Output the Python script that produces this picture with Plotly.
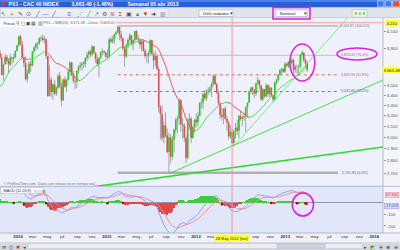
import numpy as np
import pandas as pd
import plotly.graph_objects as go

W, H = 400, 250
def X(px): return px / W
def Y(py): return 1 - py / H

# ---------------- DATA (weekly CAC 40) ----------------
first_week = "2009-06-01"
opens = [3280, 3380, 3330, 3200, 3140, 3080, 3020, 3230, 3370, 3426, 3520, 3520, 3570, 3590, 3500, 3700, 3800, 3730, 3600, 3780, 3850,
         3800, 3608, 3720, 3808, 3760, 3721, 3799, 3785, 3799, 3872,
         3936, 4045, 3949, 3796, 3737, 3563, 3625, 3730, 3708, 3864, 3914, 3955, 3962, 4021, 4027, 3999, 4010, 3816, 3392, 3560, 3431, 3508,
         3414, 3475, 3600, 3489, 3348, 3560, 3487, 3551, 3643, 3743, 3609, 3545, 3536, 3653, 3696, 3715, 3733, 3727, 3791, 3833, 3869, 3833,
         3927, 3851, 3779, 3725, 3795, 3861, 3873, 3854,
         3805, 3801, 4010, 3981, 4012, 4072, 4092, 4157, 4064, 4020, 3900, 3810, 3940, 4000, 4056, 3950, 3999, 4107, 4018, 4005, 3947, 3985,
         3876, 3816, 3823, 3854, 3998, 3838, 3766, 3816, 3672, 3279, 3213, 2997, 3108, 3019, 2873, 3000, 2834, 2981, 3068, 3162, 3174, 3348,
         3120, 3109, 2997, 2823, 3155, 3170, 2996, 3094,
         3160, 3137, 3196, 3318, 3327, 3413, 3368, 3435, 3445, 3467, 3516, 3599, 3511, 3424, 3319, 3205, 3187, 3268, 3169, 3135, 3009, 3050,
         2950, 3051, 3088, 3060, 3196, 3168, 3180, 3194, 3279, 3321, 3437, 3477, 3446, 3413, 3519, 3552, 3498, 3355, 3460, 3387, 3500, 3410,
         3474, 3396, 3356, 3531, 3557, 3610, 3662, 3674, 3641,
         3730, 3706, 3754, 3741, 3773, 3664, 3698, 3702, 3698, 3831, 3854, 3770, 3731]
highs = [3400, 3420, 3340, 3230, 3220, 3090, 3240, 3380, 3440, 3530, 3560, 3590, 3620, 3600, 3700, 3810, 3820, 3760, 3790, 3880, 3890,
         3840, 3730, 3840, 3830, 3790, 3840, 3810, 3840, 3880, 3945,
         4050, 4065, 3990, 3830, 3810, 3670, 3760, 3760, 3870, 3930, 3970, 3975, 4035, 4050, 4065, 4050, 4020, 3820, 3710, 3590, 3520, 3560,
         3490, 3620, 3640, 3530, 3570, 3590, 3570, 3670, 3760, 3750, 3650, 3580, 3660, 3710, 3750, 3750, 3760, 3800, 3860, 3880, 3890, 3940,
         3930, 3860, 3830, 3800, 3870, 3900, 3880, 3860,
         3890, 4020, 4040, 4050, 4080, 4110, 4169, 4150, 4110, 4030, 3920, 3960, 4025, 4080, 4060, 4010, 4110, 4120, 4060, 4025, 4000, 4010,
         3900, 3850, 3880, 4010, 4000, 3850, 3880, 3840, 3700, 3300, 3300, 3140, 3230, 3080, 3040, 3030, 3010, 3080, 3180, 3200, 3370, 3360,
         3180, 3130, 3020, 3180, 3220, 3190, 3110, 3170,
         3220, 3230, 3330, 3360, 3420, 3450, 3460, 3480, 3490, 3530, 3610, 3600, 3530, 3450, 3330, 3270, 3270, 3290, 3200, 3150, 3110, 3080,
         3070, 3130, 3160, 3210, 3250, 3200, 3230, 3290, 3330, 3450, 3480, 3490, 3460, 3530, 3590, 3560, 3500, 3470, 3460, 3520, 3510, 3500,
         3480, 3410, 3535, 3570, 3620, 3670, 3690, 3680, 3750,
         3740, 3760, 3780, 3800, 3780, 3720, 3720, 3720, 3840, 3880, 3860, 3790, 3760]
lows = [3270, 3300, 3190, 3100, 3060, 2970, 3000, 3220, 3330, 3420, 3440, 3420, 3540, 3440, 3490, 3690, 3700, 3550, 3590, 3770, 3780,
        3600, 3550, 3720, 3730, 3630, 3700, 3720, 3740, 3790, 3870,
        3920, 3940, 3780, 3690, 3550, 3530, 3620, 3640, 3700, 3850, 3880, 3890, 3940, 3980, 3990, 3960, 3780, 3380, 3385, 3380, 3350, 3400,
        3390, 3460, 3470, 3290, 3340, 3470, 3430, 3550, 3600, 3590, 3520, 3460, 3470, 3620, 3670, 3650, 3680, 3690, 3760, 3780, 3800, 3810,
        3840, 3740, 3700, 3580, 3780, 3820, 3830, 3790,
        3780, 3800, 3960, 3960, 3950, 4050, 4080, 4000, 3980, 3880, 3695, 3790, 3910, 3990, 3940, 3880, 3980, 4000, 3960, 3900, 3870, 3860,
        3790, 3740, 3730, 3830, 3830, 3670, 3700, 3660, 3230, 2980, 2970, 2950, 3000, 2860, 2693, 2780, 2810, 2870, 3040, 3040, 3110, 3050,
        2990, 2960, 2780, 2810, 3070, 2950, 2990, 3040,
        3090, 3100, 3190, 3270, 3260, 3350, 3340, 3400, 3420, 3380, 3490, 3500, 3410, 3300, 3170, 3150, 3120, 3160, 3060, 2980, 2990, 2940,
        2920, 2990, 3020, 2990, 3150, 3100, 3150, 3050, 3180, 3320, 3410, 3400, 3370, 3390, 3500, 3460, 3340, 3340, 3370, 3380, 3380, 3380,
        3380, 3330, 3340, 3500, 3530, 3590, 3620, 3630, 3630,
        3690, 3680, 3690, 3720, 3630, 3630, 3620, 3600, 3680, 3800, 3750, 3680, 3640]
closes = [3380, 3330, 3200, 3140, 3080, 3020, 3230, 3370, 3426, 3520, 3520, 3570, 3590, 3500, 3700, 3800, 3730, 3600, 3780, 3850, 3800,
          3608, 3720, 3808, 3760, 3721, 3799, 3785, 3799, 3872, 3936,
          4045, 3949, 3796, 3737, 3563, 3625, 3730, 3708, 3864, 3914, 3955, 3962, 4021, 4027, 3999, 4010, 3816, 3392, 3560, 3431, 3508, 3414,
          3475, 3600, 3489, 3348, 3560, 3487, 3551, 3643, 3743, 3609, 3545, 3536, 3653, 3696, 3715, 3733, 3727, 3791, 3833, 3869, 3833, 3927,
          3851, 3779, 3725, 3795, 3861, 3873, 3854, 3805,
          3801, 4010, 3981, 4012, 4072, 4092, 4157, 4064, 4020, 3900, 3810, 3940, 4000, 4056, 3950, 3999, 4107, 4018, 4005, 3947, 3985, 3876,
          3816, 3823, 3854, 3998, 3838, 3766, 3816, 3672, 3279, 3213, 2997, 3108, 3019, 2873, 3000, 2834, 2981, 3068, 3162, 3174, 3348, 3120,
          3109, 2997, 2823, 3155, 3170, 2996, 3094, 3160,
          3137, 3196, 3318, 3327, 3413, 3368, 3435, 3445, 3467, 3516, 3599, 3511, 3424, 3319, 3205, 3187, 3268, 3169, 3135, 3009, 3050, 2950,
          3051, 3088, 3060, 3196, 3168, 3180, 3194, 3279, 3321, 3437, 3477, 3446, 3413, 3519, 3552, 3498, 3355, 3460, 3387, 3500, 3410, 3474,
          3396, 3356, 3531, 3557, 3610, 3662, 3674, 3641, 3730,
          3706, 3754, 3741, 3773, 3664, 3698, 3702, 3698, 3831, 3854, 3770, 3731, 3663.48]

n = len(closes)
assert len(opens) == len(highs) == len(lows) == n
dates = pd.date_range(first_week, periods=n, freq="7D")
highs = [max(h, o, c) for h, o, c in zip(highs, opens, closes)]
lows = [min(l, o, c) for l, o, c in zip(lows, opens, closes)]

# Fibonacci retracement drawn on the chart
fib_high, fib_low = 4169.87, 2701.85
fib_ratios = [1.0, 0.764, 0.618, 0.5, 0.0]
fib_line_colors = ["#9c9c9c", "#f3a8a8", "#e06464", "#6a78e0", "#b0b0b0"]
fib_text_colors = ["#777777", "#d05a5a", "#d05a5a", "#5060d0", "#666666"]
fib_dashes = ["solid", "solid", "dot", "dot", "solid"]
fib_widths = [1, 1, 1, 1, 2.5]
fib_start, fib_end = "2011-02-14", "2013-08-05"

# Trendlines: two anchor points (date, price) + drawn extent
trendlines = [
    (("2011-09-12", 2674), ("2014-02-06", 2917), "2010-11-01", "2014-02-06", 1.6, "#2fd82f"),
    (("2011-09-12", 2696), ("2014-02-06", 3554), "2011-09-12", "2014-02-06", 1.0, "#45dd45"),
    (("2012-06-04", 2920), ("2012-11-12", 3330), "2012-06-04", "2013-09-16", 0.8, "#6fe06f"),
]

cursor_date, cursor_price = "2012-05-28", 4210
price_ticks = [4100, 3900, 3500, 3400, 3300, 3200, 3100, 3000, 2900, 2800, 2700]
macd_ticks = [-100, -200]
macd_labels = [67.300, -27.013]

# x tick labels (the two 2012 labels hidden under the cursor date box are left out)
hidden_ticks = {"2012-05-01", "2012-07-01"}
tick_dates = []
tick_labels = []
for yr in [2010, 2011, 2012, 2013]:
    for m, lab in zip([1, 3, 5, 7, 9, 11], [None, "mar", "may", "jul", "sep", "nov"]):
        d = f"{yr}-{m:02d}-01"
        if d in hidden_ticks:
            continue
        tick_dates.append(d)
        tick_labels.append(f"<b>{yr}</b>" if lab is None else lab)
tick_dates.append("2014-01-01"); tick_labels.append("<b>2014</b>")

xr = ["2009-10-19", "2014-02-06"]
FONT = "Liberation Sans, Arial, sans-serif"

fig = go.Figure()
def add(tr): fig.add_trace(tr)

# Fib lines
ann = []
for r, lc, tc, ds, wd in zip(fib_ratios, fib_line_colors, fib_text_colors, fib_dashes, fib_widths):
    lvl = fib_low + r * (fib_high - fib_low)
    add(go.Scatter(x=[fib_start, fib_end], y=[lvl, lvl], mode="lines",
                   line=dict(color=lc, width=wd, dash=ds), hoverinfo="skip", showlegend=False))
    ann.append(dict(x=X(355), xref="paper", y=np.log10(lvl), yref="y",
                    text=f"{lvl:,.2f} ({r*100:.1f}%)", font=dict(size=3.6, color=tc, family=FONT),
                    showarrow=False, xanchor="center", yanchor="middle"))

# crosshair horizontal
add(go.Scatter(x=xr, y=[cursor_price, cursor_price], mode="lines",
               line=dict(color="#f2a0a0", width=1), hoverinfo="skip", showlegend=False))

# candles: wicks then bodies
wx, wy = [], []
ux, uy, dx, dy = [], [], [], []
for d, o, h, l, c in zip(dates, opens, highs, lows, closes):
    wx += [d, d, None]; wy += [l, h, None]
    if c >= o:
        ux += [d, d, None]; uy += [o, c, None]
    else:
        dx += [d, d, None]; dy += [o, c, None]
add(go.Scatter(x=wx, y=wy, mode="lines", line=dict(color="#a4a4a4", width=1), hoverinfo="skip", showlegend=False))
add(go.Scatter(x=ux, y=uy, mode="lines", line=dict(color="#26c926", width=1.6), hoverinfo="skip", showlegend=False))
add(go.Scatter(x=dx, y=dy, mode="lines", line=dict(color="#e05050", width=1.6), hoverinfo="skip", showlegend=False))

# moving average 20, coloured by slope
ma = pd.Series(closes).rolling(20).mean().values
gx, gy, rx_, ry_ = [], [], [], []
for i in range(1, n):
    if np.isnan(ma[i - 1]):
        continue
    if ma[i] >= ma[i - 1]:
        gx += [dates[i - 1], dates[i], None]; gy += [ma[i - 1], ma[i], None]
    else:
        rx_ += [dates[i - 1], dates[i], None]; ry_ += [ma[i - 1], ma[i], None]
add(go.Scatter(x=gx, y=gy, mode="lines", line=dict(color="#3ee83e", width=1), hoverinfo="skip", showlegend=False))
add(go.Scatter(x=rx_, y=ry_, mode="lines", line=dict(color="#f25555", width=1), hoverinfo="skip", showlegend=False))

# trendlines (log-linear through anchors)
for a, b, s, e, wd, col in trendlines:
    ta, tb = pd.Timestamp(a[0]), pd.Timestamp(b[0])
    la, lb = np.log(a[1]), np.log(b[1])
    k = (lb - la) / (tb - ta).days
    xs = [pd.Timestamp(s), pd.Timestamp(e)]
    ys = [float(np.exp(la + k * (t - ta).days)) for t in xs]
    add(go.Scatter(x=xs, y=ys, mode="lines", line=dict(color=col, width=wd), hoverinfo="skip", showlegend=False))

# MACD
cs = pd.Series(closes)
macd = cs.ewm(span=12, adjust=False).mean() - cs.ewm(span=26, adjust=False).mean()
signal = macd.ewm(span=9, adjust=False).mean()
hist = (macd - signal).values
add(go.Bar(x=dates, y=hist, marker=dict(color=["#3ccc3c" if v >= 0 else "#e04848" for v in hist], line_width=0),
           width=4 * 86400000, xaxis="x2", yaxis="y2", hoverinfo="skip", showlegend=False))
cx = [dates[i] for i in range(1, n) if hist[i] < 0 <= hist[i - 1]]
cy = [hist[i] for i in range(1, n) if hist[i] < 0 <= hist[i - 1]]
add(go.Scatter(x=cx, y=cy, mode="markers", marker=dict(color="#b00000", size=2.5), xaxis="x2", yaxis="y2",
               hoverinfo="skip", showlegend=False))
add(go.Scatter(x=dates, y=macd, mode="lines", line=dict(color="#8a98f0", width=0.9), xaxis="x2", yaxis="y2",
               hoverinfo="skip", showlegend=False))
add(go.Scatter(x=dates, y=signal, mode="lines", line=dict(color="#f08a8a", width=0.9), xaxis="x2", yaxis="y2",
               hoverinfo="skip", showlegend=False))

# ---------------- chrome ----------------
shapes = []
def rect(x0, y0, x1, y1, fill, line=None, lw=0.5, layer="below"):
    shapes.append(dict(type="rect", xref="paper", yref="paper", x0=X(x0), x1=X(x1), y0=Y(y1), y1=Y(y0),
                       fillcolor=fill, line=dict(color=line or "rgba(0,0,0,0)", width=lw if line else 0), layer=layer))
def hline(x0, x1, y, col, lw=1, layer="below"):
    shapes.append(dict(type="line", xref="paper", yref="paper", x0=X(x0), x1=X(x1), y0=Y(y), y1=Y(y),
                       line=dict(color=col, width=lw), layer=layer))
def vline(x, y0, y1, col, lw=1, layer="below"):
    shapes.append(dict(type="line", xref="paper", yref="paper", x0=X(x), x1=X(x), y0=Y(y0), y1=Y(y1),
                       line=dict(color=col, width=lw), layer=layer))
def txt(x, y, s, size=4, color="#333", anchor="left", bg=None, bold=False, border=None):
    d = dict(x=X(x), y=Y(y), xref="paper", yref="paper", text=f"<b>{s}</b>" if bold else s, showarrow=False,
             xanchor=anchor, yanchor="middle", font=dict(size=size, color=color, family=FONT), borderpad=0.5)
    if bg: d["bgcolor"] = bg
    if border: d["bordercolor"] = border; d["borderwidth"] = 0.5
    ann.append(d)

# title bar
rect(0, 0, 400, 7.5, "#2760d6")
rect(0, 0, 400, 2, "#4a82ec")
rect(1, 1.2, 5, 6, "#d83a3a")
txt(7, 3.8, "PX1 - CAC 40 INDEX", 5.2, "white", bold=True)
txt(70, 3.8, "3,663.48 (-1.48%)", 5.2, "white", bold=True)
txt(126, 3.8, "Semanal 05 abr 2013", 5.2, "white", bold=True)
rect(377.5, 0.8, 384, 6.8, "#3d7bf0", "#ffffff")
rect(385, 0.8, 391.5, 6.8, "#3d7bf0", "#ffffff")
rect(392.5, 0.8, 399.5, 6.8, "#e2542c", "#ffffff")
# toolbar
rect(0, 7.5, 400, 18, "#e2e4eb")
rect(0.5, 8.3, 168, 17.3, "#eceef3", "#c0c4d0")
hline(0, 400, 18, "#a9afc3", 0.8)
toolbar_icons = [(3, "↖", "#555"), (12, "♦", "#e0b000"), (20, "✎", "#666"), (28, "⊙", "#555"), (37, "╱", "#3355cc"),
                 (45, "—", "#3355cc"), (53, "╱", "#3355cc"), (69, "≡", "#3355cc"), (79, "⋰", "#3355cc"),
                 (88, "╱", "#22aa22"), (96, "↗", "#3355cc"), (104, "⚙", "#666"), (112, "≋", "#cc3333"),
                 (120, "Σ", "#cc3333"), (128, "▣", "#555"), (137, "▲", "#22bb22"), (145, "▼", "#dd2222"),
                 (153, "➜", "#222"), (162, "▥", "#777")]
for x, ch, col in toolbar_icons:
    txt(x, 13, ch, 6, col, anchor="center")
rect(199, 10, 233, 16.5, "#ffffff", "#9da3b5")
txt(201, 13.3, "1000 unidades", 4, "#222")
txt(230.5, 13.3, "▾", 4.5, "#333", anchor="center")
rect(276, 10, 307, 16.5, "#ffffff", "#9da3b5")
txt(278, 13.3, "Semanal", 4, "#222")
txt(304.5, 13.3, "▾", 4.5, "#333", anchor="center")
rect(352, 9.5, 367, 17.3, "#eef3e6", "#aab0c0")
txt(359.5, 13.3, "∧∨∧", 4.5, "#22aa22", anchor="center")

# panels
rect(0, 18, 383, 186, "#eef1fb")
rect(0, 186.5, 383, 233, "#e1e6f8")
rect(383, 18, 400, 233, "#f4f5fa")
rect(0, 233, 400, 242, "#eff1f7")
hline(0, 400, 186.3, "#a3abc9", 0.8)
hline(0, 400, 233, "#a3abc9", 0.8)
vline(383, 18, 233, "#a9afc6", 0.8)
rect(0, 19, 116, 27, "#f9fafd", layer="above")
txt(1.5, 23, "Precio", 4, "#333")
txt(14, 23, "⚲ ◻ ◼ ▦ ▧", 4.5, "#555")
txt(42, 23, "PX1 + MM(20): 3,671.58  +Desv: 3,603.01", 3.8, "#666")
txt(1.5, 183, "© ProRealTime.com  Datos con retraso no en tiempo real", 3.6, "#777")
rect(0.5, 187.5, 43, 193.5, "#f9fafd", "#b0b6cc", layer="above")
txt(1.5, 190.5, "MACD (12,26,9)", 3.8, "#333")
txt(32, 190.5, "✎ ◻ ⚙", 4, "#555")

# cursor vertical line + labels
shapes.append(dict(type="line", xref="x", yref="paper", x0=cursor_date, x1=cursor_date, y0=Y(233), y1=Y(18),
                   line=dict(color="#f29a9a", width=1), layer="above"))
ann.append(dict(x=cursor_date, xref="x2", y=Y(238), yref="paper", text="28 May 2012 (lun)", showarrow=False,
                xanchor="center", yanchor="middle", bgcolor="#ffff33", borderpad=0.5,
                font=dict(size=4, color="#222", family=FONT)))
ann.append(dict(x=X(391.5), xref="paper", y=np.log10(cursor_price), yref="y", text="4,210", showarrow=False,
                xanchor="center", yanchor="middle", bgcolor="#ffff33", borderpad=0.5,
                font=dict(size=4.2, color="#222", family=FONT)))
ann.append(dict(x=X(391.5), xref="paper", y=np.log10(closes[-1]), yref="y", text=f"{closes[-1]:,.2f}", showarrow=False,
                xanchor="center", yanchor="middle", bgcolor="#ffff33", borderpad=0.5,
                font=dict(size=4.2, color="#222", family=FONT)))
for v, bg, fc, bc in zip(macd_labels, ["#fbd3df", "#d6dcfb"], ["#cc3355", "#3344bb"], ["#e08ca0", "#8c98e0"]):
    ann.append(dict(x=X(391.5), xref="paper", y=v, yref="y2", text=f"{v:.3f}", showarrow=False,
                    xanchor="center", yanchor="middle", bgcolor=bg, bordercolor=bc, borderwidth=0.5, borderpad=0.5,
                    font=dict(size=3.8, color=fc, family=FONT)))

# magenta highlights
MAG = "#e01ee0"
shapes.append(dict(type="circle", xref="x", yref="paper", x0="2013-01-20", x1="2013-05-02", y0=Y(81), y1=Y(44),
                   line=dict(color=MAG, width=1.5), layer="above"))
shapes.append(dict(type="circle", xref="paper", yref="paper", x0=X(337), x1=X(377), y0=Y(60), y1=Y(48),
                   line=dict(color=MAG, width=1.5), layer="above"))
shapes.append(dict(type="circle", xref="x", yref="paper", x0="2013-01-30", x1="2013-04-27", y0=Y(216), y1=Y(193),
                   line=dict(color=MAG, width=1.5), layer="above"))
shapes.append(dict(type="rect", xref="paper", yref="paper", x0=X(273), x1=X(310), y0=Y(19), y1=Y(7.5),
                   line=dict(color=MAG, width=1.5), layer="above"))

# bottom bar
rect(0, 242, 400, 250, "#d6d9e2")
rect(28, 243.5, 362, 248.7, "#eceef4", "#b8bccb")
rect(277, 244, 325, 248.2, "#d0d4de", "#aab0c0")
for x, ch, col in [(3, "✉", "#444"), (10, "⎙", "#444"), (17, "✖", "#cc3333"), (24, "◂", "#444"),
                   (365, "▸", "#444"), (372, "◩", "#22aa22"), (380, "⁜", "#333"), (387, "⊕", "#333"), (395, "⊖", "#333")]:
    txt(x, 246, ch, 5, col, anchor="center")

fig.update_layout(
    width=W, height=H, margin=dict(l=0, r=0, t=0, b=0), autosize=False,
    paper_bgcolor="#eceff6", plot_bgcolor="rgba(0,0,0,0)", showlegend=False, bargap=0,
    font=dict(family=FONT),
    xaxis=dict(domain=[0, X(383)], range=xr, type="date", showticklabels=False, showgrid=False,
               zeroline=False, showline=False, anchor="y", fixedrange=True),
    yaxis=dict(domain=[Y(186), Y(18)], type="log", range=[np.log10(2599), np.log10(4269)], side="right",
               anchor="x", tickvals=price_ticks, ticktext=[f"{v:,}" for v in price_ticks],
               tickfont=dict(size=4.3, color="#555", family=FONT), ticks="outside", ticklen=2, tickcolor="#999",
               showgrid=False, zeroline=False, showline=False, fixedrange=True),
    xaxis2=dict(domain=[0, X(383)], range=xr, type="date", anchor="y2", matches="x", tickvals=tick_dates,
                ticktext=tick_labels, tickfont=dict(size=4.3, color="#333", family=FONT), ticks="",
                showgrid=False, zeroline=False, showline=False, fixedrange=True),
    yaxis2=dict(domain=[Y(233), Y(187)], range=[-261, 139], side="right", anchor="x2",
                tickvals=macd_ticks, ticktext=[str(v) for v in macd_ticks],
                tickfont=dict(size=4.3, color="#555", family=FONT), ticks="outside", ticklen=2, tickcolor="#999",
                showgrid=False, zeroline=True, zerolinecolor="#8f96b5", zerolinewidth=1, showline=False,
                fixedrange=True),
    shapes=shapes, annotations=ann,
)
fig.write_html("out.html", config={"displayModeBar": False})
